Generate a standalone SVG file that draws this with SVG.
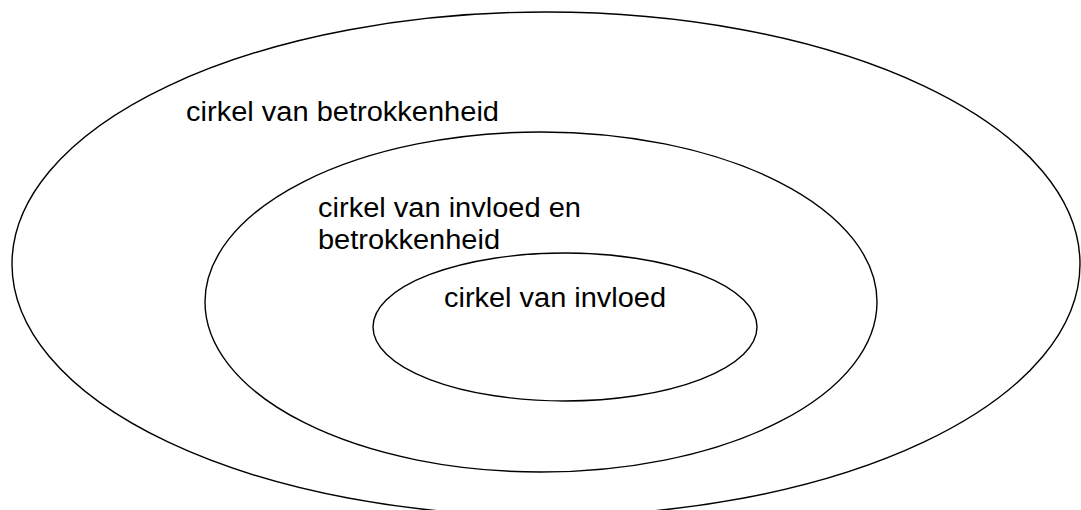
<svg xmlns="http://www.w3.org/2000/svg" width="1081" height="510" viewBox="0 0 1081 510">
<style>
.c{fill:none;stroke:#000;stroke-width:1.4}
.t{font-family:"Liberation Sans",Arial,sans-serif;font-size:27px;fill:#000}
</style>
<rect width="1081" height="510" fill="#fff"/>
<g id="outer"><ellipse class="c" cx="546" cy="264" rx="534" ry="252"/>
<text class="t" x="186" y="121" textLength="313" lengthAdjust="spacingAndGlyphs">cirkel van betrokkenheid</text></g>
<g id="middle"><ellipse class="c" cx="541" cy="302" rx="336" ry="170"/>
<text class="t" x="318" y="217" textLength="263" lengthAdjust="spacingAndGlyphs">cirkel van invloed en</text>
<text class="t" x="318" y="249" textLength="182" lengthAdjust="spacingAndGlyphs">betrokkenheid</text></g>
<g id="inner"><ellipse class="c" cx="565" cy="327" rx="192" ry="74"/>
<text class="t" x="444" y="307" textLength="222" lengthAdjust="spacingAndGlyphs">cirkel van invloed</text></g>
<g id="connectors"/>
</svg>
